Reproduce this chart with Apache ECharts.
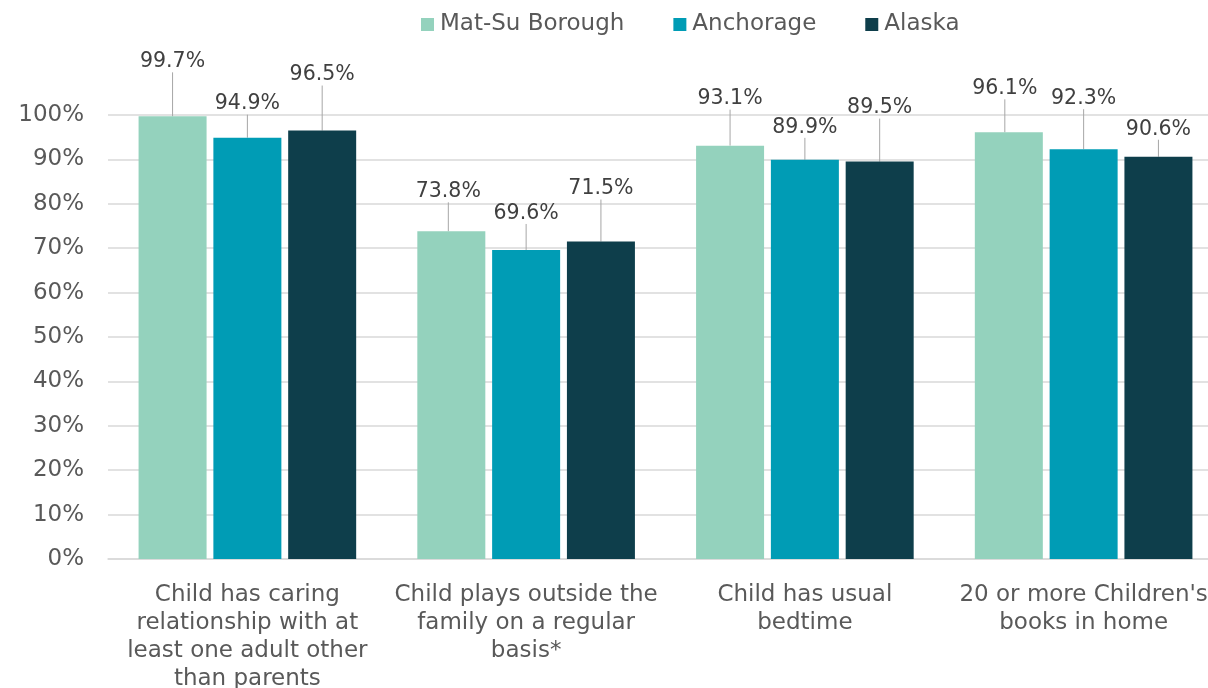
<!DOCTYPE html>
<html>
<head>
<meta charset="utf-8">
<script src="https://cdn.jsdelivr.net/npm/echarts@6/dist/echarts.min.js"></script>
<style>
html,body{margin:0;padding:0;background:#fff;overflow:hidden;}
#chart{width:1208px;height:688px;}
</style>
</head>
<body>
<div id="chart"></div>
<script>
// ---- data ----
const categories = [
  "Child has caring\nrelationship with at\nleast one adult other\nthan parents",
  "Child plays outside the\nfamily on a regular\nbasis*",
  "Child has usual\nbedtime",
  "20 or more Children's\nbooks in home"
];
const seriesNames = ["Mat-Su Borough", "Anchorage", "Alaska"];
const matSu = [99.7, 73.8, 93.1, 96.1];
const anchorage = [94.9, 69.6, 89.9, 92.3];
const alaska = [96.5, 71.5, 89.5, 90.6];
const yTicks = [0, 10, 20, 30, 40, 50, 60, 70, 80, 90, 100];

// ---- label placement (style only): lift of label centre above bar top, px ----
const liftMatSu = [56, 41, 48, 45];
const liftAnch = [35, 38, 34, 52];
const liftAk = [57, 54, 55, 29];
const shiftMatSu = [0, -3, 0, -4];
const lifts = [liftMatSu, liftAnch, liftAk];
const shifts = [shiftMatSu, [0,0,0,0], [0,0,0,0]];

const colors = ["#94d2bd", "#009cb5", "#0e3e4b"];
const FONT = "DejaVu Sans";

const chart = echarts.init(document.getElementById('chart'));

function makeSeries(name, data, idx) {
  return {
    name: name,
    type: 'bar',
    data: data,
    barWidth: 68,
    barGap: '10%',
    itemStyle: { color: colors[idx] },
    label: {
      show: true,
      position: 'top',
      formatter: p => p.value.toFixed(1) + '%',
      fontFamily: FONT,
      fontSize: 20.5,
      color: '#404040',
      padding: [0, 0, 3, 0]
    },
    labelLine: {
      show: true,
      lineStyle: { color: '#a6a6a6', width: 1 }
    },
    labelLayout: function (p) {
      const r = p.rect;
      return {
        x: r.x + r.width / 2 + shifts[idx][p.dataIndex],
        y: r.y - lifts[idx][p.dataIndex] + 1.5,
        align: 'center',
        verticalAlign: 'middle'
      };
    }
  };
}

chart.setOption({
  animation: false,
  backgroundColor: '#ffffff',
  textStyle: { fontFamily: FONT },
  legend: {
    data: seriesNames,
    top: 8,
    left: 416,
    icon: 'rect',
    itemWidth: 13,
    itemHeight: 13,
    itemGap: 49,
    textStyle: { fontFamily: FONT, fontSize: 23, color: '#595959', padding: [0, 0, 0, 1] }
  },
  grid: { left: 108, top: 115, bottom: 129, width: 1115, containLabel: false, outerBoundsMode: 'none' },
  xAxis: {
    type: 'category',
    data: categories,
    axisTick: { show: false },
    axisLine: { lineStyle: { color: '#d9d9d9', width: 1.5 } },
    axisLabel: {
      interval: 0,
      margin: 22,
      fontFamily: FONT,
      fontSize: 23,
      lineHeight: 28,
      color: '#595959',
      align: 'center'
    }
  },
  yAxis: {
    type: 'value',
    min: yTicks[0],
    max: yTicks[yTicks.length - 1],
    interval: yTicks[1] - yTicks[0],
    axisLine: { show: false },
    axisTick: { show: false },
    splitLine: { lineStyle: { color: '#d9d9d9', width: 1.5 } },
    axisLabel: {
      formatter: '{value}%',
      margin: 24,
      fontFamily: FONT,
      fontSize: 23,
      color: '#595959'
    }
  },
  series: [
    makeSeries(seriesNames[0], matSu, 0),
    makeSeries(seriesNames[1], anchorage, 1),
    makeSeries(seriesNames[2], alaska, 2)
  ]
});
</script>
</body>
</html>
